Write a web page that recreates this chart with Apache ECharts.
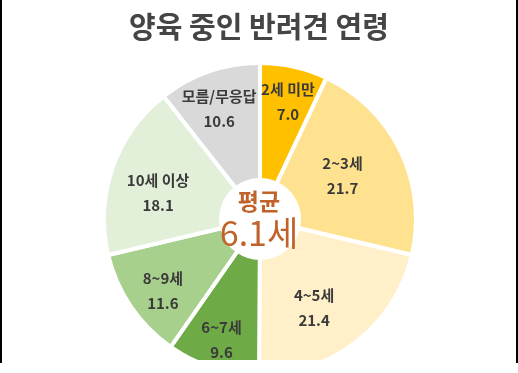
<!DOCTYPE html>
<html>
<head>
<meta charset="utf-8">
<script src="https://cdn.jsdelivr.net/npm/echarts@6/dist/echarts.min.js"></script>
<style>
  html, body { margin: 0; padding: 0; background: #ffffff; }
  #chart { width: 518px; height: 373px; }
</style>
</head>
<body>
<div id="chart"></div>
<script>
// ---- data ----
const titleText = '양육 중인 반려견 연령';
const categories = ['2세 미만', '2~3세', '4~5세', '6~7세', '8~9세', '10세 이상', '모름/무응답'];
const values = [7.0, 21.7, 21.4, 9.6, 11.6, 18.1, 10.6];
const avgLabel = '평균';
const avgValue = '6.1세';

// ---- styles ----
const palette = ['#FFC000', '#FFE28F', '#FFF0C9', '#6EAB46', '#A8D08D', '#E2EFD9', '#D9D9D9'];
const labelNudge = [[6, -19], [-8, 0], [-8, 10], [-8, 25], [-14, 15], [-7, 7], [-8, -15]];
const FONT = '"Noto Sans CJK KR", "Noto Sans", sans-serif';

const chart = echarts.init(document.getElementById('chart'), null, { renderer: 'canvas' });

const seriesData = categories.map((name, i) => ({
  name: name,
  value: values[i],
  itemStyle: { color: palette[i] },
  label: { offset: labelNudge[i] }
}));

chart.setOption({
  animation: false,
  backgroundColor: '#ffffff',
  title: {
    text: titleText,
    left: 'center',
    top: 7,
    textStyle: { fontFamily: FONT, fontSize: 29, fontWeight: 'bold', color: '#454545' }
  },
  series: [{
    type: 'pie',
    center: [260, 219],
    radius: [39, 156],
    startAngle: 90,
    clockwise: true,
    avoidLabelOverlap: false,
    silent: true,
    itemStyle: { borderColor: '#ffffff', borderWidth: 4 },
    label: {
      show: true,
      position: 'inside',
      formatter: p => p.name + '\n' + p.value.toFixed(1),
      fontFamily: FONT,
      fontSize: 15,
      fontWeight: 'bold',
      color: '#3a3a3a',
      lineHeight: 25
    },
    labelLine: { show: false },
    emphasis: { disabled: true },
    data: seriesData
  }],
  graphic: {
    elements: [
      {
        type: 'text', left: 'center', top: 190, z: 100,
        style: { text: avgLabel, fontFamily: FONT, fontSize: 23, fontWeight: 'bold', fill: '#C0632B' }
      },
      {
        type: 'text', top: 216, left: 'center', z: 100,
        style: { text: avgValue, fontFamily: FONT, fontSize: 34, fontWeight: 'normal', fill: '#C0632B' }
      },
      { type: 'rect', z: 100, shape: { x: 0, y: 360, width: 518, height: 13 }, style: { fill: '#ffffff' } },
      { type: 'rect', z: 101, shape: { x: 0, y: 0, width: 2, height: 363 }, style: { fill: '#000000' } },
      { type: 'rect', z: 101, shape: { x: 516, y: 0, width: 2, height: 363 }, style: { fill: '#000000' } }
    ]
  }
});
</script>
</body>
</html>
